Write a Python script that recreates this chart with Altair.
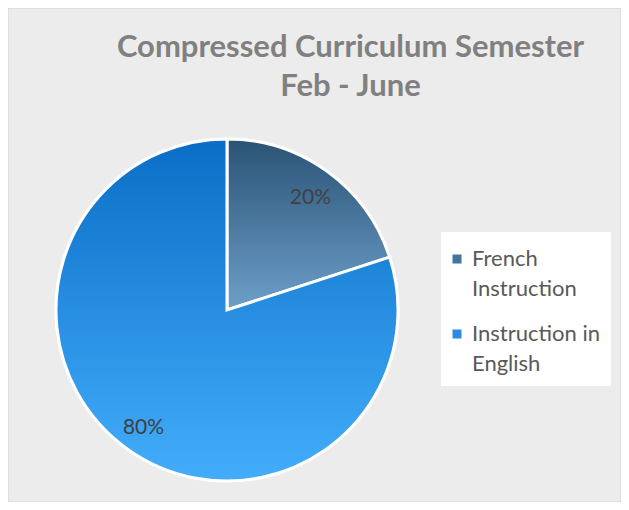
import altair as alt
import pandas as pd

categories = ["French Instruction", "Instruction in English"]
shares = [20, 80]
share_labels = ["20%", "80%"]
title_lines = ["Compressed Curriculum Semester", "Feb - June"]

df = pd.DataFrame({"category": categories, "share": shares,
                   "label": share_labels, "order": list(range(len(categories)))})

FONT = "Lato"
CX, CY, R = 219, 302, 171

french_grad = {"gradient": "linear", "x1": 0, "y1": 0, "x2": 0, "y2": 1,
               "stops": [{"offset": 0, "color": "#2a5275"},
                         {"offset": 1, "color": "#6d9fca"}]}
english_grad = {"gradient": "linear", "x1": 0, "y1": 0, "x2": 0, "y2": 1,
                "stops": [{"offset": 0, "color": "#0a6ec6"},
                          {"offset": 1, "color": "#43adfb"}]}

base = alt.Chart(df)
theta = alt.Theta("share:Q", stack=True)
order = alt.Order("order:Q")

legend = alt.Legend(
    title=" ", titleFontSize=4, titlePadding=1,
    orient="none", legendX=433, legendY=224,
    fillColor="white", padding=11, symbolType="square", symbolSize=81,
    symbolStrokeWidth=0, symbolOffset=-6, labelFont=FONT, labelFontSize=22,
    labelColor="#595959", labelLimit=0, labelOffset=4, rowPadding=23,
    labelBaseline="middle",
    labelExpr="datum.label == 'French Instruction' ? ['French', 'Instruction'] : ['Instruction in', 'English']",
)

solid = base.mark_arc(outerRadius=R, stroke="white", strokeWidth=3).encode(
    theta=theta, order=order,
    color=alt.Color("category:N", scale=alt.Scale(domain=categories, range=["#44739c", "#2a8be0"]),
                    legend=legend),
    x=alt.value(CX), y=alt.value(CY),
)

grad = base.mark_arc(outerRadius=R, stroke="white", strokeWidth=3).encode(
    theta=theta, order=order,
    fill=alt.condition(alt.datum.category == categories[0], alt.value(french_grad), alt.value(english_grad)),
    x=alt.value(CX), y=alt.value(CY),
)

text = base.mark_text(radius=142, dy=3, font=FONT, fontSize=21, color="#404040").encode(
    theta=theta, order=order, text="label:N",
    x=alt.value(CX), y=alt.value(CY),
)

chart = alt.layer(solid, grad, text).properties(
    width=613, height=494, padding=0,
    autosize=alt.AutoSizeParams(type="none"),
    title=alt.TitleParams(title_lines, font=FONT, fontSize=31, fontWeight="bold",
                          color="#808080", anchor="middle", dx=36, offset=-95,
                          baseline="top", lineHeight=39),
).configure(
    background="white",
    style={"guide-label": {"lineHeight": 30}},
    view=alt.ViewConfig(fill="#ececec", stroke="#d9d9d9", strokeWidth=1.5),
)

chart.save("out.html", embed_options={"renderer": "svg", "actions": False})
